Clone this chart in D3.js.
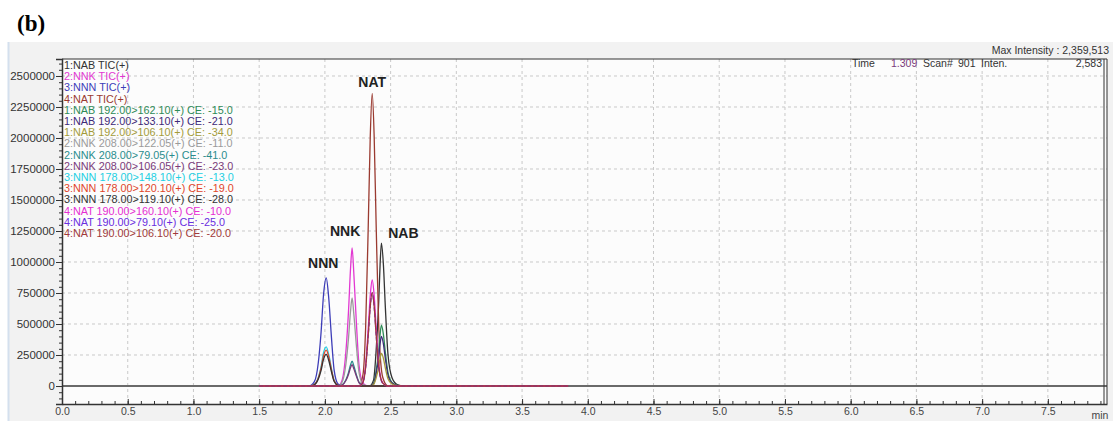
<!DOCTYPE html>
<html>
<head>
<meta charset="utf-8">
<script src="https://cdn.jsdelivr.net/npm/d3@7"></script>
<style>
  body { margin: 0; background: #fff; }
  svg text { font-family: "Liberation Sans", Arial, sans-serif; }
</style>
</head>
<body>
<div id="chart"></div>
<script>
// tick labels
var xTicks = [0, 0.5, 1.0, 1.5, 2.0, 2.5, 3.0, 3.5, 4.0, 4.5, 5.0, 5.5, 6.0, 6.5, 7.0, 7.5];
var yTicks = [0, 250000, 500000, 750000, 1000000, 1250000, 1500000, 1750000, 2000000, 2250000, 2500000];

// retention time samples (min) for each compound group
var nnnTimes = [1.50, 1.88, 1.92, 1.95, 1.97, 1.99, 2.01, 2.03, 2.05, 2.07, 2.10, 2.14, 3.85];
var nnkTimes = [1.50, 2.10, 2.13, 2.16, 2.18, 2.195, 2.207, 2.22, 2.24, 2.26, 2.29, 2.33, 3.85];
var natTimes = [1.50, 2.26, 2.29, 2.31, 2.33, 2.345, 2.36, 2.375, 2.39, 2.41, 2.44, 2.48, 3.85];
var nabTimes = [1.50, 2.34, 2.37, 2.39, 2.41, 2.42, 2.43, 2.445, 2.46, 2.48, 2.51, 2.55, 2.60, 3.85];

// intensities
var nabTic = [0, 0, 46000, 288000, 692000, 980000, 1153000, 980000, 634000, 254000, 69000, 12000, 0, 0];
var nnkTic = [0, 0, 45000, 280000, 610000, 945000, 1113000, 910000, 500000, 167000, 22000, 0, 0];
var nnnTic = [0, 0, 35000, 190000, 420000, 740000, 871000, 700000, 390000, 130000, 17000, 0, 0];
var natTic = [0, 0, 94000, 472000, 1298000, 2006000, 2359513, 2006000, 1298000, 472000, 71000, 0, 0];
var nab162 = [0, 0, 20000, 122000, 294000, 417000, 490000, 417000, 270000, 108000, 29000, 5000, 0, 0];
var nab133 = [0, 0, 16000, 100000, 240000, 340000, 400000, 340000, 220000, 88000, 24000, 4000, 0, 0];
var nab106 = [0, 0, 11000, 66000, 158000, 224000, 263000, 224000, 145000, 58000, 16000, 3000, 0, 0];
var nnk122 = [0, 0, 28000, 178000, 390000, 603000, 710000, 582000, 320000, 107000, 14000, 0, 0];
var nnk79 = [0, 0, 8000, 50000, 110000, 170000, 200000, 164000, 90000, 30000, 4000, 0, 0];
var nnk106 = [0, 0, 7000, 44000, 95000, 148000, 172000, 140000, 78000, 26000, 3000, 0, 0];
var nnn148 = [0, 0, 13000, 70000, 150000, 270000, 315000, 250000, 140000, 47000, 6000, 0, 0];
var nnn120 = [0, 0, 12000, 64000, 140000, 245000, 290000, 232000, 130000, 44000, 6000, 0, 0];
var nnn119 = [0, 0, 10000, 56000, 122000, 217000, 255000, 204000, 115000, 38000, 5000, 0, 0];
var nat160 = [0, 0, 34000, 171000, 470000, 727000, 855000, 727000, 470000, 171000, 26000, 0, 0];
var nat79 = [0, 0, 30000, 150000, 412000, 638000, 750000, 638000, 412000, 150000, 22000, 0, 0];
var nat106 = [0, 0, 30000, 151000, 415000, 642000, 755000, 642000, 415000, 151000, 23000, 0, 0];

var traces = [
  {name: "1:NAB TIC(+)", times: nabTimes, values: nabTic},
  {name: "2:NNK TIC(+)", times: nnkTimes, values: nnkTic},
  {name: "3:NNN TIC(+)", times: nnnTimes, values: nnnTic},
  {name: "4:NAT TIC(+)", times: natTimes, values: natTic},
  {name: "1:NAB 192.00>162.10(+) CE: -15.0", times: nabTimes, values: nab162},
  {name: "1:NAB 192.00>133.10(+) CE: -21.0", times: nabTimes, values: nab133},
  {name: "1:NAB 192.00>106.10(+) CE: -34.0", times: nabTimes, values: nab106},
  {name: "2:NNK 208.00>122.05(+) CE: -11.0", times: nnkTimes, values: nnk122},
  {name: "2:NNK 208.00>79.05(+) CE: -41.0", times: nnkTimes, values: nnk79},
  {name: "2:NNK 208.00>106.05(+) CE: -23.0", times: nnkTimes, values: nnk106},
  {name: "3:NNN 178.00>148.10(+) CE: -13.0", times: nnnTimes, values: nnn148},
  {name: "3:NNN 178.00>120.10(+) CE: -19.0", times: nnnTimes, values: nnn120},
  {name: "3:NNN 178.00>119.10(+) CE: -28.0", times: nnnTimes, values: nnn119},
  {name: "4:NAT 190.00>160.10(+) CE: -10.0", times: natTimes, values: nat160},
  {name: "4:NAT 190.00>79.10(+) CE: -25.0", times: natTimes, values: nat79},
  {name: "4:NAT 190.00>106.10(+) CE: -20.0", times: natTimes, values: nat106}
];

// peak names at their apex
var peakNames = ["NNN", "NNK", "NAT", "NAB"];
var peakTimes = [2.01, 2.207, 2.36, 2.43];
var peakValues = [871000, 1113000, 2359513, 1153000];

var colors = ["#333333", "#e238d2", "#3d3db8", "#9a3a30", "#2e8b57", "#3e2a78", "#a39b3a", "#9a9a9a",
  "#2a8c8c", "#7a3a7a", "#22cfe2", "#e0452a", "#333333", "#e62ed2", "#6a2ee0", "#a03a3a"];
var dashes = [null, null, null, null, null, null, null, null, null, null, null, null, null, null, "4,2", null];

var W = 1113, H = 421;
var svg = d3.select("#chart").append("svg")
  .attr("width", W)
  .attr("height", H);

var x = d3.scaleLinear().domain([0, 7.95]).range([62, 1107]);
var y = d3.scaleLinear().domain([-145000, 2637000]).range([404, 59]);

// panel and title
svg.append("text")
  .text("(b)")
  .attr("x", 17)
  .attr("y", 31)
  .style("font-family", "'Liberation Serif', 'Times New Roman', serif")
  .style("font-weight", "bold")
  .style("font-size", "23px");

svg.append("rect")
  .attr("x", 8).attr("y", 42)
  .attr("width", W - 8).attr("height", H - 42)
  .style("fill", "#f2f2f2");
svg.append("line")
  .attr("x1", 8.5).attr("x2", 8.5).attr("y1", 42).attr("y2", H)
  .style("stroke", "#d4e0ee").style("stroke-width", "2px");

svg.append("rect")
  .attr("x", x.range()[0]).attr("y", y.range()[1])
  .attr("width", x.range()[1] - x.range()[0])
  .attr("height", y.range()[0] - y.range()[1])
  .style("fill", "#fcfcfc");

// grid
svg.append("g").selectAll("line")
  .data(xTicks.slice(1))
  .join("line")
  .attr("x1", function(d) { return x(d); })
  .attr("x2", function(d) { return x(d); })
  .attr("y1", y.range()[1])
  .attr("y2", y.range()[0])
  .style("stroke", "#c9c9c9")
  .style("stroke-dasharray", "3,3");

svg.append("g").selectAll("line")
  .data(yTicks.slice(1))
  .join("line")
  .attr("x1", x.range()[0])
  .attr("x2", x.range()[1])
  .attr("y1", function(d) { return y(d); })
  .attr("y2", function(d) { return y(d); })
  .style("stroke", "#c9c9c9")
  .style("stroke-dasharray", "3,3");

// zero line
svg.append("line")
  .attr("x1", x.range()[0]).attr("x2", x.range()[1])
  .attr("y1", y(0)).attr("y2", y(0))
  .style("stroke", "#6a6a6a")
  .style("stroke-width", "2px");

// traces
var line = d3.line()
  .x(function(d) { return x(d[0]); })
  .y(function(d) { return y(d[1]); })
  .curve(d3.curveMonotoneX);

traces.forEach(function(t, i) {
  svg.append("path")
    .datum(d3.zip(t.times, t.values))
    .attr("d", line)
    .style("fill", "none")
    .style("stroke", colors[i])
    .style("stroke-width", "1.3px")
    .style("stroke-dasharray", dashes[i]);
});

// axes
var yMinor = d3.range(-100000, 2637000, 50000);
var xMinor = d3.range(0.1, 7.95, 0.1);

svg.append("g")
  .attr("transform", "translate(" + x.range()[0] + ",0)")
  .call(d3.axisLeft(y).tickValues(yMinor).tickSize(3).tickFormat(""))
  .call(function(g) { g.select(".domain").remove(); })
  .selectAll("line").style("stroke", "#333");

var yAxis = svg.append("g")
  .attr("transform", "translate(" + x.range()[0] + ",0)")
  .call(d3.axisLeft(y).tickValues(yTicks).tickSize(6).tickPadding(1).tickFormat(d3.format("d")));
yAxis.select(".domain").style("stroke", "#333").style("stroke-width", "1.5px");
yAxis.selectAll("line").style("stroke", "#333");
yAxis.selectAll("text").style("font-size", "11.5px").style("fill", "#333");

svg.append("g")
  .attr("transform", "translate(0," + y.range()[0] + ")")
  .call(d3.axisBottom(x).tickValues(xMinor).tickSizeInner(-3).tickSizeOuter(0).tickFormat(""))
  .call(function(g) { g.select(".domain").remove(); })
  .selectAll("line").style("stroke", "#333");

var xAxis = svg.append("g")
  .attr("transform", "translate(0," + y.range()[0] + ")")
  .call(d3.axisBottom(x).tickValues(xTicks).tickSizeInner(-5).tickSizeOuter(0).tickPadding(4).tickFormat(d3.format(".1f")));
xAxis.select(".domain").style("stroke", "#333").style("stroke-width", "1.5px");
xAxis.selectAll("line").style("stroke", "#333");
xAxis.selectAll("text").style("font-size", "10.5px").style("fill", "#444");

svg.append("text")
  .text("min")
  .attr("x", 1100)
  .attr("y", 419)
  .attr("text-anchor", "middle")
  .style("font-size", "10.5px")
  .style("fill", "#444");

// frame top and right
svg.append("line")
  .attr("x1", x.range()[0]).attr("x2", x.range()[1])
  .attr("y1", y.range()[1]).attr("y2", y.range()[1])
  .style("stroke", "#333");
[x.range()[1] - 3, x.range()[1]].forEach(function(px) {
  svg.append("line")
    .attr("x1", px).attr("x2", px)
    .attr("y1", y.range()[1]).attr("y2", y.range()[0])
    .style("stroke", "#333");
});

// legend
traces.forEach(function(t, i) {
  svg.append("text")
    .text(t.name)
    .attr("x", 64)
    .attr("y", 69 + i * 11.2)
    .style("font-size", "10.8px")
    .style("fill", colors[i]);
});

// header
svg.append("text")
  .text("Max Intensity : 2,359,513")
  .attr("x", 1109)
  .attr("y", 54)
  .attr("text-anchor", "end")
  .style("font-size", "10.5px")
  .style("fill", "#333");

var header = [
  {text: "Time", px: 852, anchor: "start", color: "#333"},
  {text: "1.309", px: 891, anchor: "start", color: "#7a3a7a"},
  {text: "Scan#", px: 923, anchor: "start", color: "#333"},
  {text: "901", px: 958, anchor: "start", color: "#333"},
  {text: "Inten.", px: 981, anchor: "start", color: "#333"},
  {text: "2,583", px: 1102, anchor: "end", color: "#333"}
];
header.forEach(function(h) {
  svg.append("text")
    .text(h.text)
    .attr("x", h.px)
    .attr("y", 67)
    .attr("text-anchor", h.anchor)
    .style("font-size", "10.5px")
    .style("fill", h.color);
});

// peak names
var labelOffsets = [[-3, -10], [-7, -12], [0, -6], [22, -5]];
peakNames.forEach(function(n, i) {
  svg.append("text")
    .text(n)
    .attr("x", x(peakTimes[i]) + labelOffsets[i][0])
    .attr("y", y(peakValues[i]) + labelOffsets[i][1])
    .attr("text-anchor", "middle")
    .style("font-size", "14px")
    .style("font-weight", "bold")
    .style("fill", "#222");
});
</script>
</body>
</html>
